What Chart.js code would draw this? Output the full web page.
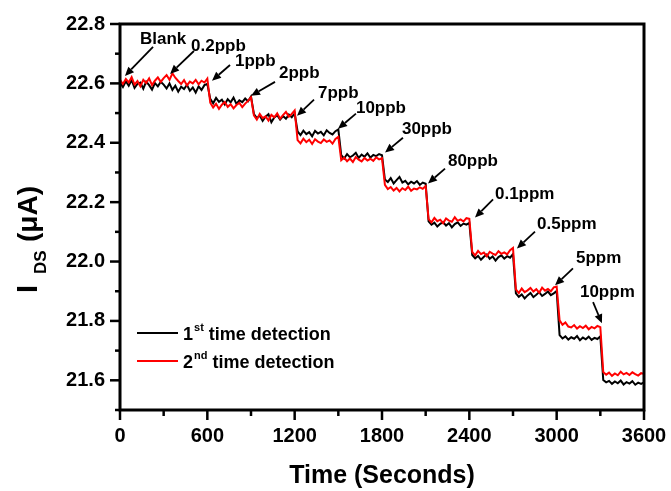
<!DOCTYPE html>
<html>
<head>
<meta charset="utf-8">
<script src="https://cdn.jsdelivr.net/npm/chart.js@4.4.1/dist/chart.umd.min.js"></script>
<style>
    html, body { margin: 0; padding: 0; background: #fff; }
    #wrap { width: 671px; height: 491px; }
</style>
</head>
<body>
<div id="wrap"><canvas id="chart1"></canvas></div>
<script>
const SAMPLE_STEP = 20; // seconds between samples

// I_DS (uA), 1st time detection, one block per 300 s gas exposure
const firstDetection = [
    22.602,
    22.588, 22.607, 22.592, 22.611, 22.585, 22.598, 22.603, 22.582, 22.606, 22.594, 22.579, 22.601, 22.590, 22.605, 22.596, // Blank
    22.583, 22.600, 22.578, 22.592, 22.572, 22.589, 22.581, 22.595, 22.575, 22.586, 22.569, 22.590, 22.578, 22.594, 22.598, // 0.2ppb
    22.548, 22.533, 22.551, 22.538, 22.545, 22.529, 22.547, 22.536, 22.552, 22.531, 22.543, 22.537, 22.549, 22.540, 22.556, // 1ppb
    22.497, 22.483, 22.492, 22.474, 22.488, 22.496, 22.469, 22.485, 22.493, 22.478, 22.490, 22.481, 22.495, 22.486, 22.499, // 2ppb
    22.438, 22.426, 22.441, 22.429, 22.436, 22.422, 22.440, 22.431, 22.437, 22.425, 22.442, 22.433, 22.428, 22.439, 22.445, // 7ppb
    22.358, 22.347, 22.362, 22.351, 22.357, 22.366, 22.349, 22.360, 22.353, 22.364, 22.350, 22.359, 22.355, 22.362, 22.358, // 10ppb
    22.276, 22.268, 22.281, 22.263, 22.274, 22.285, 22.266, 22.272, 22.260, 22.269, 22.263, 22.271, 22.258, 22.266, 22.262, // 30ppb
    22.135, 22.124, 22.131, 22.118, 22.127, 22.133, 22.121, 22.129, 22.115, 22.126, 22.132, 22.120, 22.128, 22.124, 22.130, // 80ppb
    22.022, 22.011, 22.019, 22.006, 22.016, 22.024, 22.009, 22.017, 22.003, 22.015, 22.021, 22.010, 22.018, 22.013, 22.025, // 0.1ppm
    21.893, 21.881, 21.889, 21.876, 21.886, 21.894, 21.880, 21.888, 21.897, 21.884, 21.891, 21.899, 21.887, 21.893, 21.901, // 0.5ppm
    21.752, 21.741, 21.748, 21.737, 21.745, 21.740, 21.749, 21.735, 21.744, 21.738, 21.747, 21.736, 21.743, 21.739, 21.748, // 5ppm
    21.601, 21.593, 21.598, 21.588, 21.596, 21.590, 21.599, 21.586, 21.594, 21.589, 21.597, 21.585, 21.592, 21.588, 21.593  // 10ppm
];

// I_DS (uA), 2nd time detection
const secondDetection = [
    22.612,
    22.598, 22.615, 22.603, 22.621, 22.596, 22.608, 22.590, 22.612, 22.601, 22.617, 22.594, 22.609, 22.620, 22.605, 22.618,
    22.628, 22.612, 22.634, 22.619, 22.608, 22.598, 22.611, 22.593, 22.606, 22.600, 22.612, 22.597, 22.609, 22.603, 22.616,
    22.535, 22.519, 22.531, 22.514, 22.528, 22.537, 22.521, 22.530, 22.516, 22.527, 22.534, 22.520, 22.532, 22.541, 22.553,
    22.492, 22.478, 22.497, 22.483, 22.489, 22.475, 22.494, 22.486, 22.499, 22.481, 22.493, 22.504, 22.488, 22.497, 22.509,
    22.409, 22.398, 22.414, 22.402, 22.410, 22.396, 22.412, 22.404, 22.399, 22.411, 22.403, 22.408, 22.397, 22.413, 22.420,
    22.341, 22.350, 22.338, 22.347, 22.335, 22.352, 22.343, 22.337, 22.349, 22.340, 22.346, 22.339, 22.351, 22.344, 22.348,
    22.258, 22.244, 22.251, 22.239, 22.248, 22.236, 22.247, 22.241, 22.252, 22.238, 22.246, 22.243, 22.250, 22.245, 22.254,
    22.143, 22.132, 22.147, 22.136, 22.141, 22.129, 22.145, 22.138, 22.134, 22.149, 22.137, 22.142, 22.135, 22.146, 22.144,
    22.032, 22.021, 22.036, 22.025, 22.030, 22.018, 22.033, 22.027, 22.022, 22.035, 22.026, 22.031, 22.024, 22.038, 22.046,
    21.906, 21.894, 21.909, 21.897, 21.903, 21.911, 21.899, 21.907, 21.895, 21.912, 21.902, 21.908, 21.900, 21.913, 21.916,
    21.802, 21.787, 21.795, 21.781, 21.778, 21.786, 21.774, 21.782, 21.776, 21.784, 21.772, 21.780, 21.775, 21.783, 21.779,
    21.628, 21.619, 21.626, 21.615, 21.623, 21.617, 21.629, 21.620, 21.625, 21.618, 21.627, 21.621, 21.616, 21.624, 21.622
];

// concentration callouts: label anchor, arrow tail and arrow tip in data units (s, uA)
const gasLabels      = ['Blank', '0.2ppb', '1ppb', '2ppb', '7ppb', '10ppb', '30ppb', '80ppb', '0.1ppm', '0.5ppm', '5ppm', '10ppm'];
const labelTime      = [137, 488, 790, 1092, 1360, 1621, 1937, 2253, 2576, 2865, 3133, 3160];
const labelValue     = [22.733, 22.709, 22.659, 22.619, 22.551, 22.501, 22.430, 22.323, 22.209, 22.111, 21.994, 21.880];
const arrowTailTime  = [227, 508, 756, 1065, 1333, 1621, 1944, 2233, 2563, 2851, 3112, 3250];
const arrowTailValue = [22.723, 22.709, 22.662, 22.605, 22.545, 22.498, 22.417, 22.313, 22.209, 22.101, 21.977, 21.863];
const arrowTipTime   = [34, 344, 632, 900, 1216, 1498, 1821, 2116, 2439, 2727, 2989, 3311];
const arrowTipValue  = [22.625, 22.632, 22.609, 22.558, 22.491, 22.447, 22.367, 22.263, 22.148, 22.044, 21.920, 21.792];

const seriesOrdinal = ['1', '2'];
const seriesSuffix  = ['st', 'nd'];
const seriesName    = ' time detection';
const seriesColors  = ['#000000', '#ff0000'];

const FONT = "'Liberation Sans', Arial, Helvetica, sans-serif";

function toPoints(values) {
    return values.map((v, i) => ({ x: i * SAMPLE_STEP, y: v }));
}

function drawArrow(ctx, x0, y0, x1, y1) {
    const ang = Math.atan2(y1 - y0, x1 - x0);
    const head = 9, half = 4;
    const bx = x1 - head * Math.cos(ang);
    const by = y1 - head * Math.sin(ang);
    ctx.lineWidth = 1.8;
    ctx.beginPath();
    ctx.moveTo(x0, y0);
    ctx.lineTo(bx, by);
    ctx.stroke();
    ctx.beginPath();
    ctx.moveTo(x1, y1);
    ctx.lineTo(bx + half * Math.sin(ang), by - half * Math.cos(ang));
    ctx.lineTo(bx - half * Math.sin(ang), by + half * Math.cos(ang));
    ctx.closePath();
    ctx.fill();
}

// frame, tick marks, callouts, legend and the subscripted y title
const decorations = {
    id: 'decorations',
    afterDatasetsDraw(chart) {
        const { ctx, chartArea: a, scales: { x, y } } = chart;
        ctx.save();
        ctx.strokeStyle = '#000';
        ctx.fillStyle = '#000';

        ctx.lineWidth = 3;
        ctx.strokeRect(a.left, a.top, a.right - a.left, a.bottom - a.top);

        ctx.lineWidth = 2.5;
        x.ticks.forEach(t => {
            const px = x.getPixelForValue(t.value);
            const len = t.value % 600 === 0 ? 10 : 6;
            ctx.beginPath();
            ctx.moveTo(px, a.bottom);
            ctx.lineTo(px, a.bottom + len);
            ctx.stroke();
        });
        y.ticks.forEach(t => {
            const py = y.getPixelForValue(t.value);
            const len = Math.round(t.value * 10) % 2 === 0 ? 10 : 5;
            ctx.beginPath();
            ctx.moveTo(a.left, py);
            ctx.lineTo(a.left - len, py);
            ctx.stroke();
        });

        // callouts
        ctx.font = 'bold 17px ' + FONT;
        ctx.textAlign = 'left';
        ctx.textBaseline = 'alphabetic';
        gasLabels.forEach((txt, i) => {
            ctx.fillText(txt, x.getPixelForValue(labelTime[i]), y.getPixelForValue(labelValue[i]));
            drawArrow(ctx,
                x.getPixelForValue(arrowTailTime[i]), y.getPixelForValue(arrowTailValue[i]),
                x.getPixelForValue(arrowTipTime[i]), y.getPixelForValue(arrowTipValue[i]));
        });

        // legend
        const rows = [333, 361];
        seriesOrdinal.forEach((ord, i) => {
            const ry = rows[i];
            ctx.strokeStyle = seriesColors[i];
            ctx.lineWidth = 2;
            ctx.beginPath();
            ctx.moveTo(137, ry);
            ctx.lineTo(178, ry);
            ctx.stroke();
            let tx = 183;
            ctx.font = 'bold 18px ' + FONT;
            ctx.fillText(ord, tx, ry + 7);
            tx += ctx.measureText(ord).width + 1;
            ctx.font = 'bold 11px ' + FONT;
            ctx.fillText(seriesSuffix[i], tx, ry - 2);
            tx += ctx.measureText(seriesSuffix[i]).width;
            ctx.font = 'bold 18px ' + FONT;
            ctx.fillText(seriesName, tx, ry + 7);
        });

        // y axis title: I_DS (uA)
        ctx.translate(37, 293);
        ctx.rotate(-Math.PI / 2);
        ctx.font = 'bold 29px ' + FONT;
        ctx.fillText('I', 0, 0);
        ctx.font = 'bold 17px ' + FONT;
        ctx.fillText('DS', 19, 9);
        ctx.font = 'bold 28px ' + FONT;
        ctx.fillText('(\u03bcA)', 51, 0);

        ctx.restore();
    }
};

new Chart(document.getElementById('chart1'), {
    type: 'line',
    data: {
        datasets: [
            {
                label: '1st time detection',
                data: toPoints(firstDetection),
                borderColor: seriesColors[0],
                borderWidth: 2,
                pointRadius: 0,
                order: 2
            },
            {
                label: '2nd time detection',
                data: toPoints(secondDetection),
                borderColor: seriesColors[1],
                borderWidth: 2,
                pointRadius: 0,
                order: 1
            }
        ]
    },
    options: {
        responsive: true,
        maintainAspectRatio: false,
        animation: false,
        layout: { padding: { left: 0, right: 27, top: 24, bottom: 0 } },
        plugins: {
            legend: { display: false },
            tooltip: { enabled: false }
        },
        scales: {
            x: {
                type: 'linear',
                min: 0,
                max: 3600,
                border: { display: false },
                // tick marks are drawn by the plugin; tickLength only spaces the labels
                grid: { display: false, drawTicks: true, tickLength: 14 },
                ticks: {
                    stepSize: 300,
                    autoSkip: false,
                    maxRotation: 0,
                    padding: 0,
                    color: '#000',
                    font: { family: FONT, size: 20, weight: 'bold' },
                    callback: v => (v % 600 === 0 ? String(v) : '')
                },
                title: {
                    display: true,
                    text: 'Time (Seconds)',
                    color: '#000',
                    padding: { top: 0, bottom: 0 },
                    font: { family: FONT, size: 25, weight: 'bold' }
                },
                afterFit: scale => { scale.height = 81; }
            },
            y: {
                min: 21.5,
                max: 22.8,
                border: { display: false },
                grid: { display: false, drawTicks: true, tickLength: 15 },
                ticks: {
                    stepSize: 0.1,
                    autoSkip: false,
                    padding: 0,
                    color: '#000',
                    font: { family: FONT, size: 20, weight: 'bold' },
                    callback: v => (Math.round(v * 10) % 2 === 0 ? v.toFixed(1) : '')
                },
                afterFit: scale => { scale.width = 120; }
            }
        }
    },
    plugins: [decorations]
});
</script>
</body>
</html>
